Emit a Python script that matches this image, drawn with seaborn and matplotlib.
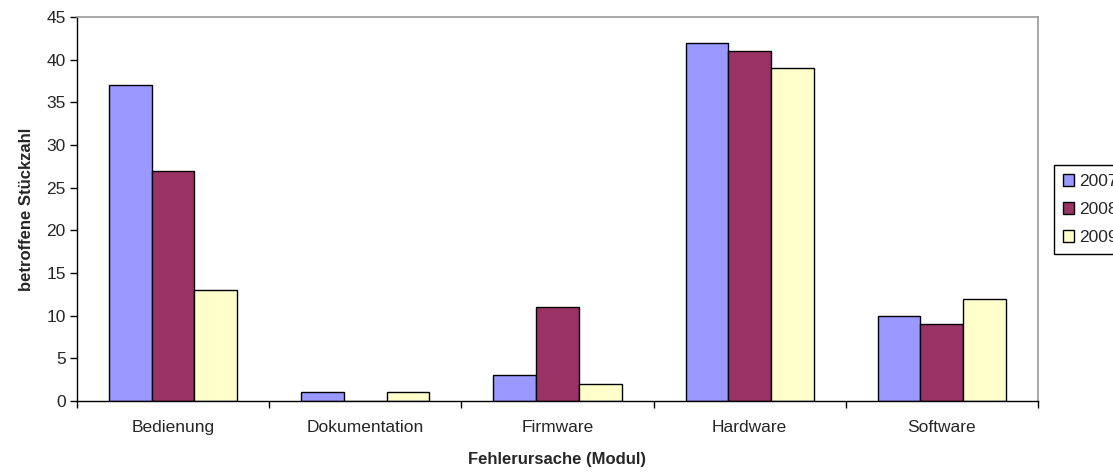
import pandas as pd
import matplotlib
matplotlib.use("Agg")
import matplotlib.pyplot as plt
from matplotlib.ticker import FixedLocator, NullFormatter
import seaborn as sns

# data
kategorien = ["Bedienung", "Dokumentation", "Firmware", "Hardware", "Software"]
jahre = ["2007", "2008", "2009"]
werte_2007 = [37, 1, 3, 42, 10]
werte_2008 = [27, 0, 11, 41, 9]
werte_2009 = [13, 1, 2, 39, 12]
farben = ["#9999FF", "#993366", "#FFFFCC"]

df = pd.DataFrame({
    "Modul": kategorien * 3,
    "Jahr": [j for j in jahre for _ in kategorien],
    "Anzahl": werte_2007 + werte_2008 + werte_2009,
})

sns.set_style("ticks")
plt.rcParams["font.family"] = ["Liberation Sans", "DejaVu Sans"]

fig = plt.figure(figsize=(11.13, 4.74), dpi=100)
ax = fig.add_axes([0.069, 0.154, 0.8636, 0.81])

sns.barplot(
    data=df, x="Modul", y="Anzahl", hue="Jahr",
    palette=farben, width=0.667, gap=0,
    edgecolor="black", linewidth=1.0, saturation=1, ax=ax,
)

ax.set_ylim(0, 45)
ax.set_yticks(range(0, 46, 5))
ax.set_xlim(-0.5, len(kategorien) - 0.5)

# ticks between categories, labels at centers
ax.xaxis.set_major_locator(FixedLocator([i - 0.5 for i in range(len(kategorien) + 1)]))
ax.xaxis.set_major_formatter(NullFormatter())
ax.xaxis.set_minor_locator(FixedLocator(range(len(kategorien))))
ax.set_xticklabels(kategorien, minor=True)
ax.tick_params(axis="x", which="minor", length=0, pad=14, labelsize=12.5)
ax.tick_params(axis="x", which="major", length=5, width=1, color="black")
ax.tick_params(axis="y", length=5, width=1, color="black", labelsize=12.5, pad=3)

for side in ["left", "bottom"]:
    ax.spines[side].set_color("black")
    ax.spines[side].set_linewidth(1.0)
for side in ["top", "right"]:
    ax.spines[side].set_visible(True)
    ax.spines[side].set_color("#999999")
    ax.spines[side].set_linewidth(1.2)

ax.set_xlabel("Fehlerursache (Modul)", fontsize=12, fontweight="bold", labelpad=12)
ax.set_ylabel("betroffene Stückzahl", fontsize=12, fontweight="bold", labelpad=9)

handles, labels = ax.get_legend_handles_labels()
ax.legend(
    handles, labels, loc="center left", bbox_to_anchor=(0.947, 0.558),
    bbox_transform=fig.transFigure, fontsize=12.5, frameon=True, fancybox=False,
    edgecolor="black", framealpha=1, handlelength=0.65, handleheight=0.65,
    handletextpad=0.3, labelspacing=0.75, borderpad=0.5, borderaxespad=0,
)
ax.get_legend().get_frame().set_linewidth(1.0)

fig.savefig("out.png", dpi=100)
